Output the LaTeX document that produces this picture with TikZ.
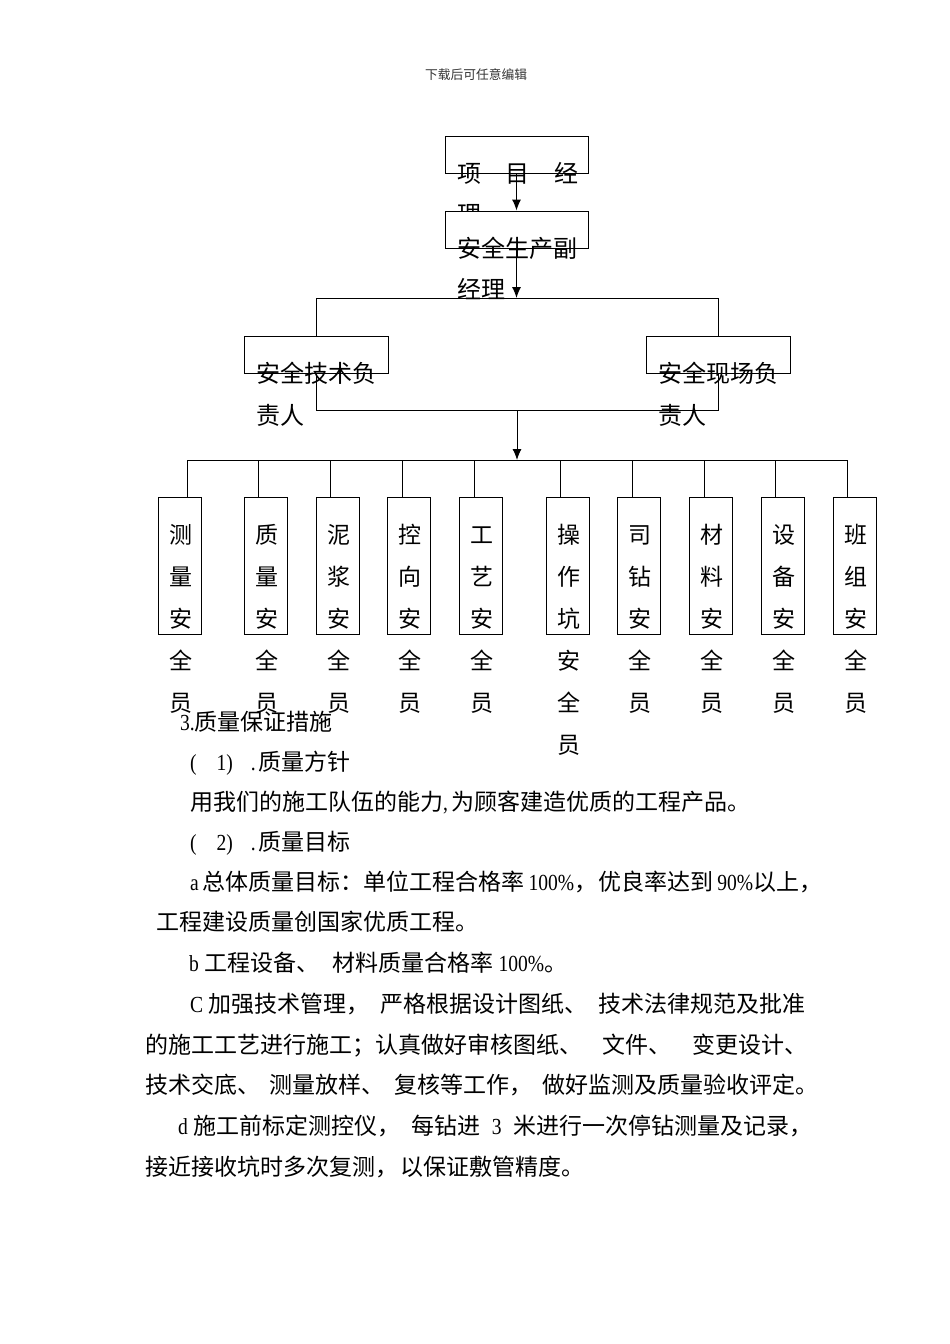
\documentclass[tikz,border=0pt]{standalone}
\usepackage{fontspec}
\setmainfont{Liberation Serif}
\newfontfamily\cjk{Noto Sans CJK SC}
\newfontfamily\latf{Liberation Serif}[FakeStretch=0.85]
\usetikzlibrary{arrows.meta}
\newcommand\lat[1]{{\latf #1}}
\newcommand\gp{\hspace{5pt plus 1fill minus 5pt}}
\begin{document}
\begin{tikzpicture}[x=1pt,y=-1pt,
  ln/.style={line width=1pt},
  arr/.style={line width=1pt,-{Latex[length=11pt,width=9pt]}},
  hbox/.style={draw,fill=white,line width=1pt,inner sep=0,minimum width=143pt,minimum height=37pt},
  vbox/.style={draw,fill=white,line width=1pt,inner sep=0,minimum width=43pt,minimum height=137pt},
  btxt/.style={font=\cjk\fontsize{24}{28}\selectfont,inner sep=0,anchor=base west},
  vtxt/.style={font=\cjk\fontsize{23}{28}\selectfont,inner sep=0,anchor=base},
  body/.style={font=\cjk\fontsize{23}{27}\selectfont,inner sep=0,anchor=base west}]
\useasboundingbox (0,0) rectangle (950,1344);
\fill[white] (0,0) rectangle (950,1344);

\node[font=\cjk\fontsize{12.75}{15}\selectfont,text=black!80,inner sep=0,anchor=base] (hdr) at (476,79) {下载后可任意编辑};

% top box
\node[hbox] (pm) at (516.5,154.5) {};
\node[btxt] (pmt1) at (457,182) {\makebox[121pt][l]{项\hfill 目\hfill 经}};
\node[btxt] (pmt2) at (457,223) {理};
% second box
\node[hbox] (dpm) at (516.5,229.5) {};
\draw[arr] (pm.south) -- (dpm.north);
\node[btxt] (dpmt1) at (457,257) {安全生产副};
\node[btxt] (dpmt2) at (457,298) {经理};
\coordinate (j1) at (516.5,298);
\draw[arr] (dpm.south) -- (j1);

% level 3
\node[hbox,minimum width=144pt] (lb) at (316,354.5) {};
\node[hbox,minimum width=144pt] (rb) at (718,354.5) {};
\draw[ln] (lb.north) -- (lb.north |- j1) -- (rb.north |- j1) -- (rb.north);
\node[btxt] (lbt1) at (256,382) {安全技术负};
\node[btxt] (lbt2) at (256,424) {责人};
\node[btxt] (rbt1) at (658,382) {安全现场负};
\node[btxt] (rbt2) at (658,424) {责人};
\coordinate (j2) at (517,410);
\coordinate (j3) at (517,460);
\draw[ln] (lb.south) -- (lb.south |- j2) -- (rb.south |- j2) -- (rb.south);
\draw[arr] (j2) -- (j3);

% bottom row
\foreach \i/\cx/\dx/\txt in {1/179.5/187/{测,量,安,全,员},2/265.5/258/{质,量,安,全,员},3/337.5/330/{泥,浆,安,全,员},4/409/402/{控,向,安,全,员},5/481/474/{工,艺,安,全,员},6/567.5/560/{操,作,坑,安,全,员},7/639/632/{司,钻,安,全,员},8/710.5/704/{材,料,安,全,员},9/782.5/775/{设,备,安,全,员},10/854.5/847/{班,组,安,全,员}}{
  \node[vbox] (b\i) at (\cx,565.5) {};
  \coordinate (d\i) at (\dx,460);
  \draw[ln] (d\i) -- (d\i |- b\i.north);
  \foreach \c [count=\k] in \txt {
    \node[vtxt] (t\i-\k) at (\cx+1,{543.5+42*(\k-1)}) {\c};
  }
}
\draw[ln] (d1) -- (d10);

% body text
\node[body] (l1) at (180,730) {\lat{3.}质量保证措施};
\node[body] (l2) at (190,770) {\lat{(}\hspace{20pt}\lat{1)}\hspace{18pt}\lat{.}\hspace{3pt}质量方针};
\node[body] (l3) at (190,810) {用我们的施工队伍的能力\lat{,}\hspace{3pt}为顾客建造优质的工程产品。};
\node[body] (l4) at (190,850) {\lat{(}\hspace{20pt}\lat{2)}\hspace{18pt}\lat{.}\hspace{3pt}质量目标};
\node[body] (l5) at (190,890) {\makebox[632pt][s]{\lat{a} 总体质量目标：单位工程合格率 \lat{100\%}，\gp 优良率达到 \lat{90\%}以上，}};
\node[body] (l6) at (156,930) {工程建设质量创国家优质工程。};
\node[body] (l7) at (189,971) {\makebox[378pt][s]{\lat{b} 工程设备、\gp 材料质量合格率 \lat{100\%}。}};
\node[body] (l8) at (190,1012) {\makebox[615pt][s]{\lat{C} 加强技术管理，\gp 严格根据设计图纸、\gp 技术法律规范及批准}};
\node[body] (l9) at (145,1053) {\makebox[662pt][s]{的施工工艺进行施工；认真做好审核图纸、\gp 文件、\gp 变更设计、}};
\node[body] (l10) at (145,1093) {\makebox[673pt][s]{技术交底、\gp 测量放样、\gp 复核等工作，\gp 做好监测及质量验收评定。}};
\node[body] (l11) at (178,1134) {\makebox[634pt][s]{\lat{d} 施工前标定测控仪，\gp 每钻进\gp\lat{3}\gp 米进行一次停钻测量及记录，}};
\node[body] (l12) at (145,1175) {\makebox[439pt][s]{接近接收坑时多次复测，\gp 以保证敷管精度。}};
\end{tikzpicture}
\end{document}
